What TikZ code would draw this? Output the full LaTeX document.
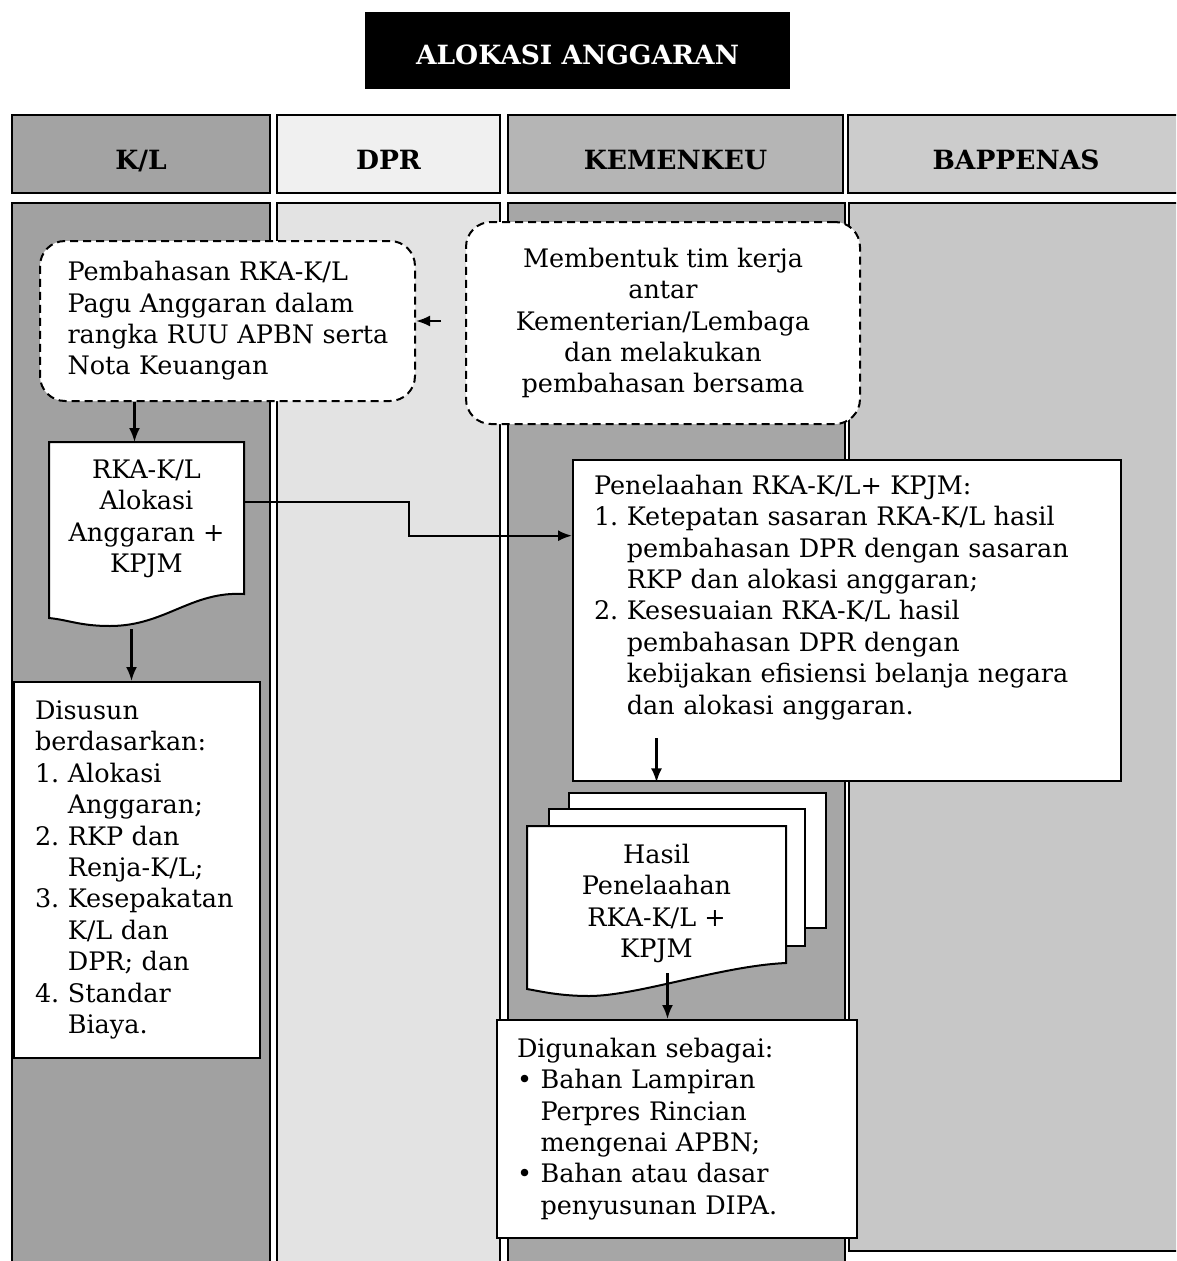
\documentclass[tikz,border=0pt]{standalone}
\usepackage{fontspec}
\setmainfont{DejaVu Serif}
\usetikzlibrary{arrows.meta,calc}

\definecolor{warnaKL}{gray}{0.63}
\definecolor{warnaDPR}{gray}{0.89}
\definecolor{warnaKEU}{gray}{0.65}
\definecolor{warnaBAP}{gray}{0.78}
\definecolor{kepalaKL}{gray}{0.64}
\definecolor{kepalaDPR}{gray}{0.94}
\definecolor{kepalaKEU}{gray}{0.71}
\definecolor{kepalaBAP}{gray}{0.80}

\tikzset{
  lajur/.style={draw, line width=1.8pt},
  kepala/.style={lajur, minimum height=78, text height=30pt, text depth=0pt, font=\fontsize{26.5}{30}\selectfont\bfseries},
  teks/.style={font=\fontsize{25.5}{31.4}\selectfont},
  kotak/.style={teks, draw, line width=2pt, fill=white},
  putus/.style={kotak, dash pattern=on 8pt off 5pt, rounded corners=25pt},
  dokumen/.style={teks, draw=none, align=center},
  lembar/.style={draw, line width=2pt, fill=white},
  panah/.style={->, line width=2.2pt}
}

\begin{document}
\begin{tikzpicture}[x=1pt,y=-1pt,>={Latex[length=14pt,width=11pt]}]
\useasboundingbox (0,0) rectangle (1176,1261);
\clip (0,0) rectangle (1176,1261);

%judul
\node (judul) at (577.5,50.5) [fill=black, text=white, minimum width=425, minimum height=77, text height=27pt, text depth=0pt, font=\fontsize{26.5}{30}\selectfont\bfseries] {ALOKASI ANGGARAN};

%lajur: kepala lalu badan
\node (head 1) at (141,154) [kepala, fill=kepalaKL, minimum width=258] {K/L};
\node (head 2) at (388.5,154) [kepala, fill=kepalaDPR, minimum width=223] {DPR};
\node (head 3) at (675.5,154) [kepala, fill=kepalaKEU, minimum width=335] {KEMENKEU};
\node (head 4) at (1016,154) [kepala, fill=kepalaBAP, minimum width=336] {BAPPENAS};
\draw[lajur, fill=warnaKL] (12,203) rectangle (270,1280);
\draw[lajur, fill=warnaDPR] (277,203) rectangle (500,1280);
\draw[lajur, fill=warnaKEU] (508,203) rectangle (845,1280);
\draw[lajur, fill=warnaBAP] (849,203) rectangle (1190,1251);

%kotak putus-putus
\node (node 1) at (227.5,321) [putus, minimum width=375, minimum height=160, text width=320, align=left] {Pembahasan RKA-K/L\\Pagu Anggaran dalam\\rangka~RUU~APBN~serta\\Nota Keuangan};
\node (node 2) at (663,323) [putus, minimum width=394, minimum height=202, align=center] {Membentuk tim kerja\\antar\\Kementerian/Lembaga\\dan melakukan\\pembahasan bersama};

%dokumen K/L
\draw[lembar] (146.5,519) node (node 3) [dokumen, minimum width=193, minimum height=152] {RKA-K/L\\Alokasi\\Anggaran +\\KPJM}
  (node 3.north west) -- (node 3.north east) -- ([yshift=2pt]node 3.south east)
  .. controls ($(node 3.south east)+(-53,-5)$) and ($(node 3.south west)+(116,30)$) .. ($(node 3.south west)+(61,30)$)
  .. controls ($(node 3.south west)+(31,30)$) and ($(node 3.south west)+(20,24)$) .. ($(node 3.south west)+(0,22)$) -- cycle;

\node (node 4) at (137,870) [kotak, minimum width=246, minimum height=376, text width=204, align=left] {Disusun\\berdasarkan:\\1.~Alokasi\\\phantom{1.~}Anggaran;\\2.~RKP dan\\\phantom{2.~}Renja-K/L;\\3.~Kesepakatan\\\phantom{3.~}K/L dan\\\phantom{3.~}DPR; dan\\4.~Standar\\\phantom{4.~}Biaya.};

%penelaahan
\node (node 5) at (572,459) [kotak, anchor=north west, text width=506, inner xsep=21, inner ysep=15, text depth=272pt, align=left] {Penelaahan RKA-K/L+ KPJM:\\1.~Ketepatan sasaran RKA-K/L hasil\\\phantom{1.~}pembahasan DPR dengan sasaran\\\phantom{1.~}RKP dan alokasi anggaran;\\2.~Kesesuaian RKA-K/L hasil\\\phantom{2.~}pembahasan DPR dengan\\\phantom{2.~}kebijakan efisiensi belanja negara\\\phantom{2.~}dan alokasi anggaran.};

%tumpukan dokumen
\draw[lembar] (569,793) rectangle (826,928);
\draw[lembar] (549,809) rectangle (805,946);
\draw[lembar] (656.5,903.5) node (node 6) [dokumen, minimum width=257, minimum height=153] {Hasil\\Penelaahan\\RKA-K/L +\\KPJM}
  (node 6.north west) -- (node 6.north east) -- ([yshift=18pt]node 6.south east)
  .. controls ($(node 6.south east)+(-65,-15)$) and ($(node 6.south west)+(110,15)$) .. ($(node 6.south west)+(62,15)$)
  .. controls ($(node 6.south west)+(32,15)$) and ($(node 6.south west)+(12,10)$) .. ($(node 6.south west)+(0,8)$) -- cycle;

\node (node 7) at (677,1129) [kotak, minimum width=360, minimum height=218, text width=320, align=left] {Digunakan sebagai:\\•~Bahan Lampiran\\\phantom{•~}Perpres Rincian\\\phantom{•~}mengenai APBN;\\•~Bahan atau dasar\\\phantom{•~}penyusunan DIPA.};

%panah
\draw[panah, shorten <=24pt] (node 1.east -| node 2.west) -- (node 1.east);
\draw[panah] ([xshift=-12pt]node 1.south -| node 3.north) -- ([xshift=-12pt]node 3.north);
\draw[panah] ([xshift=-15pt,yshift=-33pt]node 3.south) -- ([xshift=-15pt]node 3.south |- node 4.north);
\draw[panah] ([yshift=17pt]node 3.east) -- ++(165,0) |- ([yshift=85pt]node 5.west);
\draw[panah] ([yshift=44pt]node 5.south -| node 6.north) -- (node 5.south -| node 6.north);
\draw[panah] ([xshift=11pt,yshift=8pt]node 6.south) -- ([xshift=11pt]node 6.south |- node 7.north);
\end{tikzpicture}
\end{document}
